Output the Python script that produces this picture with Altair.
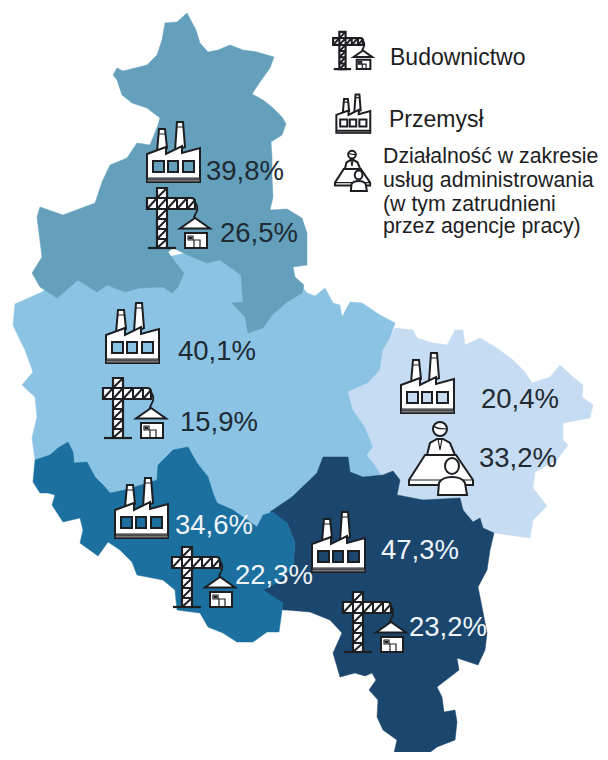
import altair as alt
import pandas as pd

# ---- region outlines (x, y in picture pixels)
CENTRE = [(15,304),(13,325),(20,340),(25,350),(33,372),(22,385),(35,397),(37,417),(32,438),(35,460),(60,480),(130,510),(200,520),(260,540),(300,520),(330,490),(390,480),(385,400),(390,338),(395,323),(380,315),(362,303),(350,302),(342,317),(340,305),(333,303),(325,288),(315,296),(307,293),(300,284),(280,280),(200,250),(60,280),(42,292)]
EAST = [(395,328),(413,330),(417,338),(433,343),(447,345),(455,330),(463,330),(465,345),(480,338),(497,348),(513,360),(525,372),(532,383),(550,377),(560,365),(573,377),(583,385),(582,397),(593,405),(590,418),(563,423),(563,440),(568,445),(557,460),(535,472),(533,488),(547,506),(533,520),(530,538),(494,533),(480,530),(440,515),(400,505),(383,478),(375,465),(367,455),(373,447),(365,427),(353,410),(348,392),(368,383),(380,370),(383,350),(390,338)]
NORTH = [(187,13),(196,30),(200,43),(208,52),(218,50),(230,45),(243,50),(257,52),(274,57),(270,68),(260,82),(252,94),(263,100),(272,107),(282,117),(286,124),(282,135),(271,142),(272,157),(272,177),(273,197),(270,210),(287,209),(302,218),(307,233),(307,265),(293,267),(295,277),(304,285),(302,293),(287,302),(272,315),(263,328),(248,333),(245,317),(232,303),(243,302),(241,275),(220,260),(207,263),(192,257),(173,248),(168,252),(175,262),(184,273),(178,287),(172,293),(163,287),(140,288),(125,292),(107,285),(97,292),(78,280),(57,298),(40,287),(32,273),(42,257),(37,217),(40,207),(63,215),(95,203),(102,182),(110,165),(127,158),(137,143),(150,145),(158,125),(160,118),(147,108),(132,103),(122,95),(117,80),(113,75),(117,68),(123,71),(147,65),(157,55),(162,40),(165,23),(177,22)]
SOUTH_EAST = [(323,457),(348,457),(350,472),(363,477),(383,475),(393,471),(400,480),(397,495),(423,500),(460,498),(463,510),(473,522),(480,518),(483,528),(494,533),(490,550),(487,570),(478,587),(482,607),(487,633),(485,650),(478,665),(457,658),(459,670),(450,677),(437,687),(442,697),(444,712),(455,710),(457,722),(455,740),(437,747),(420,760),(397,760),(393,757),(397,740),(383,730),(377,717),(378,700),(369,690),(376,680),(372,673),(365,676),(355,673),(340,677),(333,653),(342,633),(330,620),(310,612),(287,610),(283,610),(263,590),(293,567),(295,543),(287,523),(270,512),(292,497),(317,473)]
SOUTH_WEST = [(35,460),(50,455),(58,448),(68,442),(73,452),(74,463),(87,462),(95,477),(103,485),(110,493),(125,490),(157,480),(158,465),(173,450),(188,447),(197,463),(208,477),(213,493),(217,503),(233,510),(247,520),(257,527),(263,515),(273,512),(287,523),(295,543),(293,567),(277,583),(263,590),(283,603),(279,632),(267,632),(253,642),(237,642),(223,633),(208,627),(200,613),(177,610),(175,590),(163,580),(137,575),(132,562),(120,550),(108,542),(98,556),(80,543),(83,530),(80,518),(63,522),(52,505),(55,495),(48,493),(40,493),(33,482)]
REGIONS = [(CENTRE,"#8AC3E3"),(EAST,"#C6DCF2"),(NORTH,"#64A0BC"),(SOUTH_EAST,"#1B466D"),(SOUTH_WEST,"#1B709F")]

# ---- value labels
VALUE_TEXT = ["39,8%","26,5%","40,1%","15,9%","34,6%","22,3%","20,4%","33,2%","47,3%","23,2%"]
VALUE_X = [206,220,178,180,175,235,481,479,381,409]
VALUE_Y = [180,242,360,431,534,584,408,467,559,636]
VALUE_LIGHT = [0,0,0,0,1,1,0,0,1,1]

# ---- legend text
LEGEND_TEXT = ["Budownictwo","Przemysł","Działalność w zakresie","usług administrowania","(w tym zatrudnieni","przez agencje pracy)"]
LEGEND_X = [390,389,383,383,383,383]
LEGEND_Y = [65,127,163,187,211,233]
LEGEND_SIZE = [23,23,21.3,21.3,21.3,21.3]

# ---- icon placements
FACTORY_X = [173,132,141,427,338,353]
FACTORY_Y = [151,332,507,382,541,113]
FACTORY_K = [1,1,1,1,1,.64]
CRANE_X = [179,135,204,375,353]
CRANE_Y = [218,408,577,622,50.5]
CRANE_K = [1,1,1,1,.62]
DESK_X = [440,352]
DESK_Y = [457,170]
DESK_K = [1,.55]

INK = "#1C1E22"
X = alt.X("x:Q", axis=None, scale=alt.Scale(domain=[8,600], nice=False, zero=False))
Y = alt.Y("y:Q", axis=None, scale=alt.Scale(domain=[752,8], nice=False, zero=False))

layers = []
for pts, col in REGIONS:
    closed = list(pts) + [pts[0]]
    df = pd.DataFrame({"x":[p[0] for p in closed], "y":[p[1] for p in closed], "o":range(len(closed))})
    layers.append(alt.Chart(df).mark_line(fill=col, stroke=col, strokeWidth=0.5).encode(x=X, y=Y, order="o:Q"))

def icon(xs, ys, ks, path, fill=None, stroke=INK, sw=2.0):
    df = pd.DataFrame({"x":xs, "y":ys, "s":[4*k*k for k in ks]})
    kw = dict(shape=path, stroke=stroke, strokeWidth=sw, opacity=1, strokeJoin="miter")
    if fill:
        kw.update(filled=True, fill=fill)
    else:
        kw.update(filled=False)
    return alt.Chart(df).mark_point(**kw).encode(x=X, y=Y, size=alt.Size("s:Q", scale=None, legend=None))

# Factory, in pixels about its centre; windows wound the other way so they stay holes
F_BODY = ("M-26 31L-26 3L-7 -4L-7 3L9 -5L9 2L27 -3L27 31Z"
          "M-20 10L-20 21L-9 21L-9 10Z M-5 10L-5 21L5 21L5 10Z M10 10L10 21L21 21L21 10Z")
F_CHIM = "M-14 -22L-8 -22L-6 -3L-16 1Z M4 -29L10 -29L12 -4L2 0Z"
F_LINE = "M-14.5 -17L-7.5 -17 M3.5 -24L10.5 -24 M-26 27L27 27"
F_DARK = "M-26 28L27 28L27 31L-26 31Z"

layers += [icon(FACTORY_X, FACTORY_Y, FACTORY_K, F_CHIM, "white"),
           icon(FACTORY_X, FACTORY_Y, FACTORY_K, F_BODY, "white"),
           icon(FACTORY_X, FACTORY_Y, FACTORY_K, F_DARK, "#777", sw=1),
           icon(FACTORY_X, FACTORY_Y, FACTORY_K, F_LINE, sw=1.2)]

# Crane with house
C_WHITE = "M-22 -30L-12 -30L-12 -20L12 -20Q16 -20 16 -16L16 -9L-12 -9L-12 30L-22 30L-22 -9L-32 -9L-32 -20L-22 -20Z"
C_HATCH = ("M-22 -20L-12 -30 M-22 -9L-12 -20 M-22 1L-12 -9 M-22 11L-12 1 M-22 21L-12 11 M-22 30L-12 21"
           "M-32 -9L-22 -20 M-12 -9L-2 -20 M-2 -9L8 -20 M8 -9L16 -18"
           "M-22 -20L-22 -9 M-12 -20L-12 -9 M-2 -20L-2 -9 M8 -20L8 -9"
           "M-22 -20L-12 -20 M-22 -9L-12 -9 M-22 1L-12 1 M-22 11L-12 11 M-22 21L-12 21")
C_BASE = "M-31 30L-3 30"
C_CABLE = "M16 -16C19 -12 19 -8 16.5 -4L15 -1L16 1"
C_ROOF = "M16 0L1 10.5L31 10.5Z"
C_HOUSE = "M6 15L28 15L28 30L6 30Z"
C_DETAIL = "M9 18L14 18L14 22L9 22Z M15 30L15 22L21 22L21 30"
C_DOT = "M10 19L13 19L13 21L10 21Z"

layers += [icon(CRANE_X, CRANE_Y, CRANE_K, C_WHITE, "white", sw=2.2),
           icon(CRANE_X, CRANE_Y, CRANE_K, C_HATCH, sw=2.0),
           icon(CRANE_X, CRANE_Y, CRANE_K, C_BASE, sw=2.2),
           icon(CRANE_X, CRANE_Y, CRANE_K, C_CABLE, sw=1.8),
           icon(CRANE_X, CRANE_Y, CRANE_K, C_ROOF, "white"),
           icon(CRANE_X, CRANE_Y, CRANE_K, C_HOUSE, "white"),
           icon(CRANE_X, CRANE_Y, CRANE_K, C_DETAIL, sw=1.2),
           icon(CRANE_X, CRANE_Y, CRANE_K, C_DOT, INK, sw=0.5)]

# Two people at a desk
D_MAN = "M-13 -2L-10 -14L-3 -18L3 -18L10 -14L15 -2Z"
D_HEAD = "M-7 -28A7 7 0 1 1 7 -28A7 7 0 1 1 -7 -28Z"
D_HAIR = "M-6 -31C-2 -27 2 -29 6 -28 M-2 -18L0 -7L2 -18"
D_DESK = "M-15 -2L16 -2L33 23L33 28L-31 28L-31 23Z"
D_DESK_L = "M-31 23L33 23"
D_BODY = "M-2 38L-1 26C1 22 6 20 12 20C18 20 23 22 25 26L27 38Z"
D_HEAD2 = "M5 9A7 8 0 1 1 19 9A7 8 0 1 1 5 9Z"

layers += [icon(DESK_X, DESK_Y, DESK_K, D_MAN, "white"),
           icon(DESK_X, DESK_Y, DESK_K, D_HEAD, "white"),
           icon(DESK_X, DESK_Y, DESK_K, D_HAIR, sw=1.2),
           icon(DESK_X, DESK_Y, DESK_K, D_DESK, "white"),
           icon(DESK_X, DESK_Y, DESK_K, D_DESK_L, sw=1.2),
           icon(DESK_X, DESK_Y, DESK_K, D_BODY, "white"),
           icon(DESK_X, DESK_Y, DESK_K, D_HEAD2, "white")]

# Values
vals = pd.DataFrame({"x":VALUE_X, "y":VALUE_Y, "t":VALUE_TEXT, "light":VALUE_LIGHT})
for flag, col in ((0,"#1F2A33"),(1,"#EEF4F9")):
    layers.append(alt.Chart(vals[vals.light==flag]).mark_text(
        font="Liberation Sans", fontSize=27.5, align="left", baseline="alphabetic", color=col
    ).encode(x=X, y=Y, text="t:N"))

# Legend labels
leg = pd.DataFrame({"x":LEGEND_X, "y":LEGEND_Y, "t":LEGEND_TEXT, "fs":LEGEND_SIZE})
for fs in sorted(set(LEGEND_SIZE)):
    layers.append(alt.Chart(leg[leg.fs==fs]).mark_text(
        font="Liberation Sans", fontSize=fs, align="left", baseline="alphabetic", color="#1D1D1F"
    ).encode(x=X, y=Y, text="t:N"))

chart = alt.layer(*layers).properties(
    width=592, height=744, padding=0, autosize=alt.AutoSizeParams(type="none")
).configure_view(stroke=None)

chart.save("out.html", embed_options={"renderer": "svg", "actions": False})
